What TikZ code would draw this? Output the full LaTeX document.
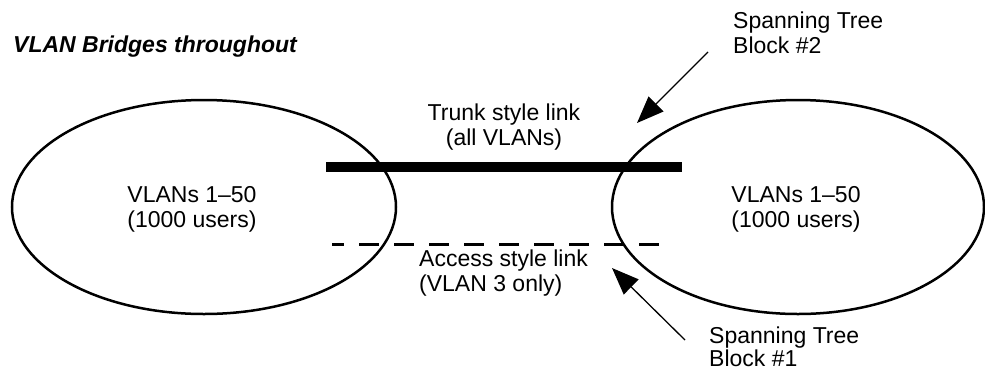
\documentclass[tikz,border=0pt]{standalone}
\usepackage{fontspec}
\setmainfont{Liberation Sans}
\usepackage{tikz}
\usetikzlibrary{shapes,positioning,calc,shapes.geometric,arrows.meta}

\begin{document}
\begin{tikzpicture}[
    x=1pt, y=-1pt,
    lan/.style={draw, ellipse, line width=2.5pt, inner sep=0pt},
    lbl/.style={inner sep=0pt, font=\fontsize{23}{25}\selectfont},
    trunk/.style={line width=10pt},
    access/.style={line width=3pt, dash pattern=on 20pt off 15pt, dash phase=8pt},
    arr/.style={-{Triangle[length=27pt, width=21pt]}, line width=1.3pt}
]
    \useasboundingbox (0,0) rectangle (985,373);

    % Header
    \node[lbl, font=\fontsize{23}{25}\selectfont\bfseries\itshape, anchor=base west] (title) at (13,52) {VLAN Bridges throughout};

    % VLAN areas
    \node[lan, minimum width=384pt, minimum height=214pt] (lanA) at (204,207) {};
    \node[lan, minimum width=372pt, minimum height=214pt] (lanB) at (798,207) {};
    \node[lbl, align=center] (lanAtxt) at (192,209) {VLANs 1--50\\(1000 users)};
    \node[lbl, align=center] (lanBtxt) at (796,209) {VLANs 1--50\\(1000 users)};

    % Links
    \coordinate (trunkA) at (326,167);
    \coordinate (trunkB) at (682,167);
    \coordinate (accessA) at (332,244);
    \coordinate (accessB) at (668,244);
    \draw[trunk] (trunkA) -- (trunkB);
    \draw[access] (accessA) -- (accessB);
    \node[lbl, align=center] (trunktxt) at (504,127) {Trunk style link\\(all VLANs)};
    \node[lbl, align=left, anchor=west] (accesstxt) at (419,273) {Access style link\\(VLAN 3 only)};

    % Spanning tree blocks
    \node[lbl, align=left, anchor=west] (blk2) at (733,33) {Spanning Tree\\Block \#2};
    \node[lbl, align=left, anchor=west, font=\fontsize{23}{23}\selectfont] (blk1) at (709,347) {Spanning Tree\\Block \#1};
    \coordinate (blk2tail) at (708,52);
    \coordinate (blk2tip) at (637,123);
    \coordinate (blk1tail) at (685,340);
    \coordinate (blk1tip) at (612,268);
    \draw[arr] (blk2tail) -- (blk2tip);
    \draw[arr] (blk1tail) -- (blk1tip);
\end{tikzpicture}
\end{document}
